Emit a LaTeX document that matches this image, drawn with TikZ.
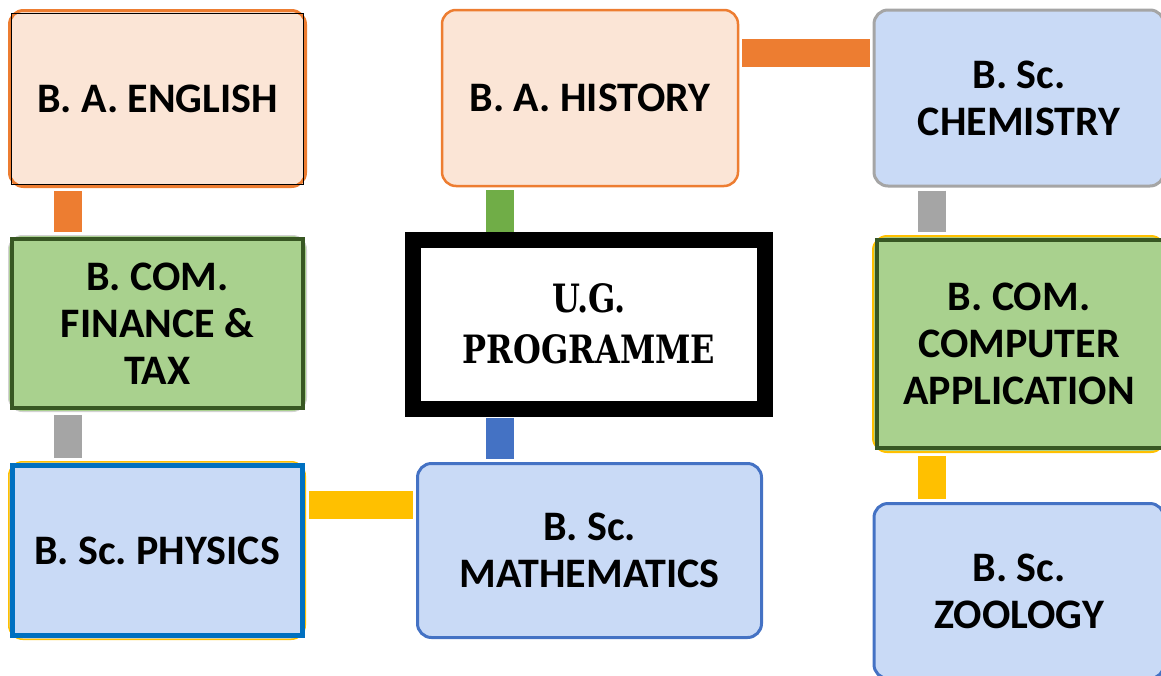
\documentclass[tikz,border=0pt]{standalone}
\usepackage{fontspec}
\setmainfont{Carlito}
\newfontfamily\ugfont{DejaVu Serif}[FakeStretch=0.82]
\usetikzlibrary{positioning}
\frenchspacing

\definecolor{peach}{HTML}{FBE5D6}
\definecolor{orangeb}{HTML}{ED7D31}
\definecolor{skyfill}{HTML}{C9DAF6}
\definecolor{grayb}{HTML}{A5A5A5}
\definecolor{leaf}{HTML}{A9D18E}
\definecolor{darkleaf}{HTML}{385723}
\definecolor{goldb}{HTML}{FFC000}
\definecolor{blueb}{HTML}{4472C4}
\definecolor{deepblue}{HTML}{0070C0}
\definecolor{greenb}{HTML}{70AD47}

\begin{document}
\begin{tikzpicture}[%
        x=1pt, y=-1pt,
        prog/.style={%
          rectangle,
          align=center,
          inner sep=0pt,
          rounded corners=14pt,
          font=\fontsize{42}{47}\selectfont\bfseries
        },
        arts/.style={prog, fill=peach, draw=orangeb},
        sci/.style={prog, fill=skyfill},
        com/.style={prog, fill=leaf},
        bar/.style={line width=28pt, shorten <=3pt, shorten >=3pt}
      ]
      \useasboundingbox (0,0) rectangle (1161,675);

      \node[arts, line width=3pt, minimum width=296pt, minimum height=176pt] (1) at (157.5,98.5) {B. A. ENGLISH};
      \node[arts, line width=2.5pt, minimum width=296pt, minimum height=176pt] (2) at (590,98) {B. A. HISTORY};
      \node[sci, draw=grayb, line width=3pt, minimum width=290pt, minimum height=176pt] (3) at (1019,98) {B. Sc.\\CHEMISTRY};
      \node[com, draw=grayb!50, line width=1pt, minimum width=298pt, minimum height=176pt] (4) at (157.5,323.5) {B. COM.\\FINANCE \&\\TAX};
      \node[rectangle, draw=black, line width=16pt, fill=white, minimum width=352pt, minimum height=169.5pt,
            align=center, font=\ugfont\bfseries\fontsize{39}{51}\selectfont] (5) at (589,324.25) {U.G.\\PROGRAMME};
      \node[com, draw=goldb, line width=2pt, minimum width=292pt, minimum height=216pt] (6) at (1019,344) {B. COM.\\COMPUTER\\APPLICATION};
      \node[sci, draw=goldb, line width=1.5pt, minimum width=296.5pt, minimum height=177.5pt] (7) at (157,550.5) {B. Sc. PHYSICS};
      \node[sci, draw=blueb, line width=3pt, minimum width=344pt, minimum height=174pt] (8) at (589.5,550.5) {B. Sc.\\MATHEMATICS};
      \node[sci, draw=blueb, line width=3pt, minimum width=290pt, minimum height=175pt] (9) at (1019,591) {B. Sc.\\ZOOLOGY};

      % square frames over the rounded boxes
      \draw[black, line width=1.2pt] ([shift={(3.5pt,-4.5pt)}]1.north west) rectangle ([shift={(-3.5pt,3.5pt)}]1.south east);
      \draw[darkleaf, line width=4pt] ([shift={(4pt,-4pt)}]4.north west) rectangle ([shift={(-4pt,4pt)}]4.south east);
      \draw[darkleaf, line width=4pt] ([shift={(5pt,-5pt)}]6.north west) rectangle ([shift={(0pt,5pt)}]6.south east);
      \draw[deepblue, line width=5pt] ([shift={(4.5pt,-4.5pt)}]7.north west) rectangle ([shift={(-3.5pt,4.5pt)}]7.south east);

      \path ([xshift=-89.5pt]1.south) edge [bar, draw=orangeb] ([xshift=-89.5pt]4.north)
      ([xshift=-89.5pt]4.south) edge [bar, draw=grayb] ([xshift=-89pt]7.north)
      ([yshift=46pt]7.east) edge [bar, draw=goldb] ([yshift=46pt]8.west)
      ([xshift=-90pt]2.south) edge [bar, draw=greenb, shorten >=0pt] ([xshift=-89pt]5.north)
      ([xshift=-89pt]5.south) edge [bar, draw=blueb, shorten <=1pt] ([xshift=-89.5pt]8.north)
      ([yshift=45pt]2.east) edge [bar, draw=orangeb] ([yshift=45pt]3.west)
      ([xshift=-87pt]3.south) edge [bar, draw=grayb] ([xshift=-87pt]6.north)
      ([xshift=-87pt]6.south) edge [bar, draw=goldb] ([xshift=-87pt]9.north);

  \end{tikzpicture}
\end{document}
